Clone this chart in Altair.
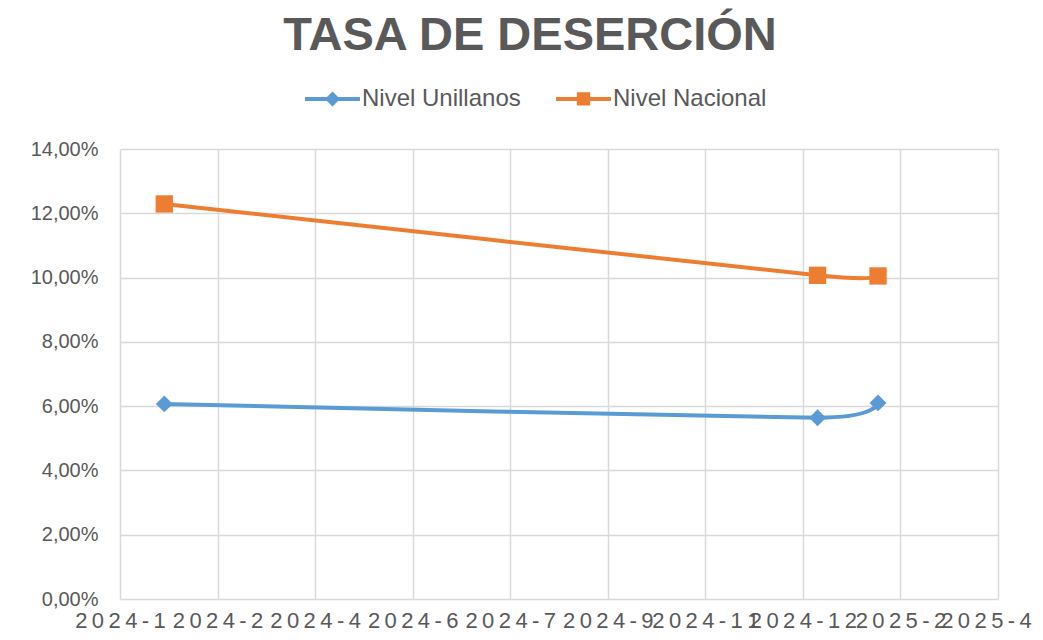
import altair as alt
import pandas as pd

# ---- data ----
SERIES = ["Nivel Unillanos", "Nivel Nacional"]
X_POS = [0.454, 7.15, 7.77]              # positions in axis units (one unit per gridline)
UNILLANOS = [0.0607, 0.0564, 0.0610]
NACIONAL = [0.1229, 0.1007, 0.1005]
X_LABELS = ["2024-1", "2024-2", "2024-4", "2024-6", "2024-7",
            "2024-9", "2024-11", "2024-12", "2025-2", "2025-4"]
Y_TICKS = [0.0, 0.02, 0.04, 0.06, 0.08, 0.10, 0.12, 0.14]
COLORS = ["#5B9BD5", "#ED7D31"]
TITLE = "TASA DE DESERCIÓN"

FONT = "Liberation Sans"
GREY = "#595959"
GRID = "#D9D9D9"

df = pd.DataFrame({
    "x": X_POS + X_POS,
    "valor": UNILLANOS + NACIONAL,
    "serie": [SERIES[0]] * len(X_POS) + [SERIES[1]] * len(X_POS),
})

spaced = ["\u2009".join(lab) for lab in X_LABELS]
x_label_expr = "[" + ",".join("'" + s + "'" for s in spaced) + "][datum.value]"
last = len(X_LABELS) - 1

x_enc = alt.X(
    "x:Q",
    scale=alt.Scale(domain=[0, last], nice=False, zero=False),
    axis=alt.Axis(
        values=list(range(len(X_LABELS))), labelExpr=x_label_expr, title=None,
        labelFontSize=22, labelColor=GREY, labelFont=FONT, labelPadding=11,
        labelOffset={"expr": f"datum.value == {last} ? -12 : 0"},
        labelOverlap=False, labelFlush=False, labelBound=False,
        ticks=False, domain=False, grid=True, gridColor=GRID, gridWidth=1.5,
    ),
)
y_enc = alt.Y(
    "valor:Q",
    scale=alt.Scale(domain=[0, 0.14], nice=False),
    axis=alt.Axis(
        values=Y_TICKS, labelExpr="replace(format(datum.value, '.2%'), '.', ',')",
        title=None, labelFontSize=20, labelColor=GREY, labelFont=FONT,
        labelPadding=22, ticks=False, domain=False, grid=True,
        gridColor=GRID, gridWidth=1.5,
    ),
)

base = alt.Chart(df)

line_u = base.transform_filter(alt.datum.serie == SERIES[0]).mark_line(
    color=COLORS[0], strokeWidth=4, interpolate="cardinal", tension=0.5).encode(x=x_enc, y=y_enc)
line_n = base.transform_filter(alt.datum.serie == SERIES[1]).mark_line(
    color=COLORS[1], strokeWidth=4, interpolate="cardinal", tension=0.5).encode(x=x_enc, y=y_enc)
pts_u = base.transform_filter(alt.datum.serie == SERIES[0]).mark_point(
    shape="diamond", filled=True, size=285, color=COLORS[0], opacity=1).encode(x=x_enc, y=y_enc)
pts_n = base.transform_filter(alt.datum.serie == SERIES[1]).mark_point(
    shape="square", filled=True, size=300, color=COLORS[1], opacity=1).encode(x=x_enc, y=y_enc)

PATHS = [
    "M-1,0H1M0,-0.17L0.17,0L0,0.17L-0.17,0Z",
    "M-1,0H1M-0.17,-0.17H0.17V0.17H-0.17Z",
]
legend = alt.Legend(
    title=None, orient="none", legendX=183, legendY=-80, direction="horizontal",
    labelFontSize=24, labelColor=GREY, labelFont=FONT, labelOffset=0,
    symbolSize=3025, symbolStrokeWidth=4, symbolOpacity=1,
    columnPadding=27, padding=0,
)
leg = base.transform_filter("false").mark_point(filled=True, strokeWidth=4, opacity=1).encode(
    x=x_enc, y=y_enc,
    fill=alt.Fill("serie:N", scale=alt.Scale(domain=SERIES, range=COLORS), legend=legend),
    stroke=alt.Stroke("serie:N", scale=alt.Scale(domain=SERIES, range=COLORS), legend=legend),
    shape=alt.Shape("serie:N", scale=alt.Scale(domain=SERIES, range=PATHS), legend=legend),
)

chart = alt.layer(line_u, line_n, pts_u, pts_n, leg).properties(
    width=878, height=450,
    title=alt.TitleParams(TITLE, fontSize=47, fontWeight="bold", color=GREY, font=FONT,
                          anchor="middle", dx=-29, offset=9),
    padding={"left": 112, "top": 141, "right": 37, "bottom": 33},
    autosize=alt.AutoSizeParams(type="none"),
).configure_view(strokeWidth=0)

chart.save("out.html", embed_options={"renderer": "svg", "actions": False})
